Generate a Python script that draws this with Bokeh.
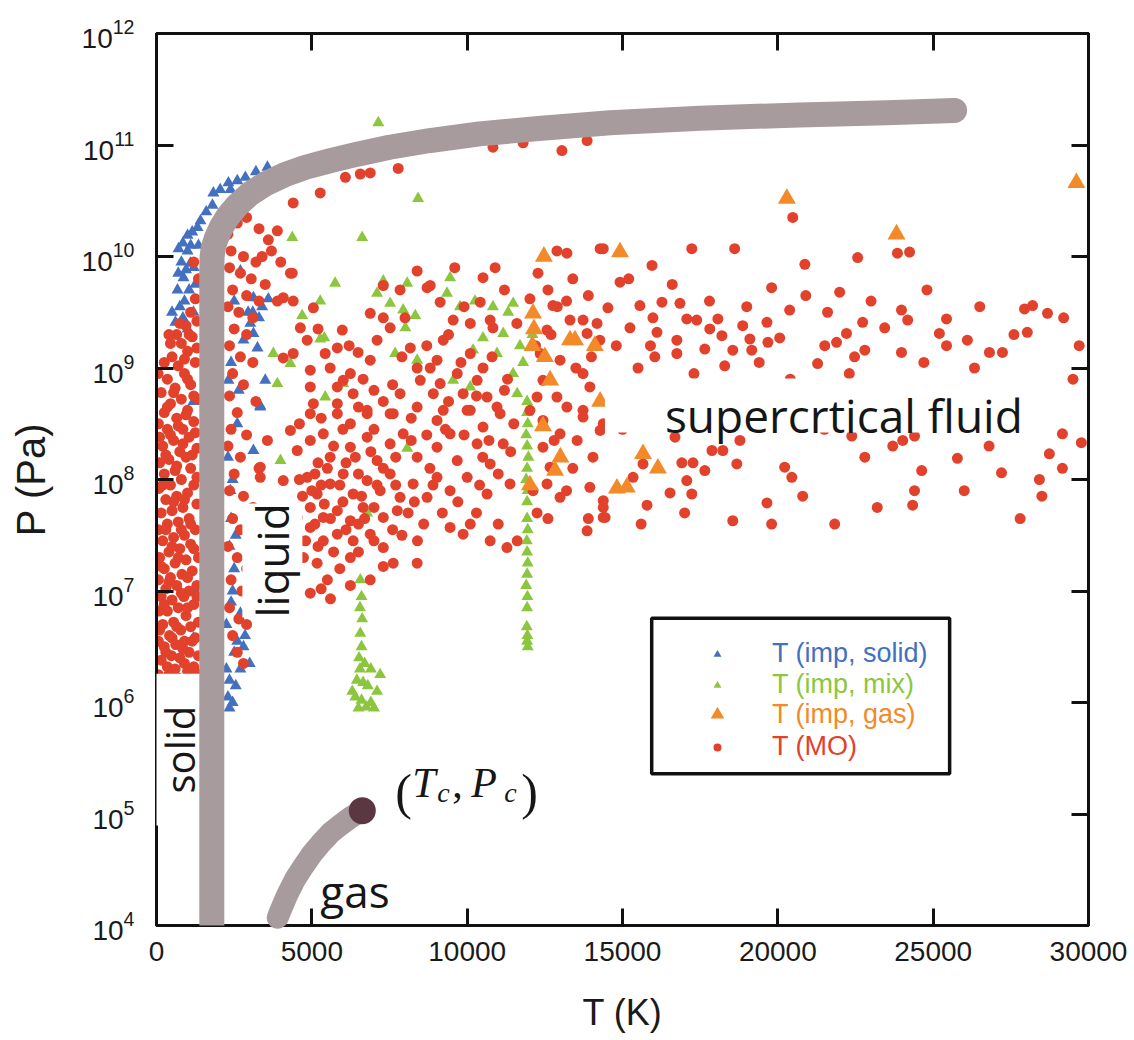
import math
from bokeh.plotting import figure
from bokeh.models import (Legend, LegendItem, Label, BoxAnnotation, FixedTicker,
                          LinearAxis, LogAxis, CustomJSTickFormatter, Range1d)
from bokeh.embed import file_html
from bokeh.resources import INLINE

# ---------------- data (T in K, log10 of P in Pa) ----------------
x_ticks = [0, 5000, 10000, 15000, 20000, 25000, 30000]
y_ticks = [1e4, 1e5, 1e6, 1e7, 1e8, 1e9, 1e10, 1e11, 1e12]

melt_T = [1780, 1780, 1790, 1830, 1920, 2080, 2300, 2600, 3000, 3500, 4100, 4800, 5600, 6500, 7500,
          8800, 10400, 12400, 14600, 17500, 20700, 23500, 25690]
melt_logP = [4.0, 9.9, 10.0, 10.08, 10.16, 10.26, 10.36, 10.46, 10.56, 10.65, 10.73, 10.8, 10.86, 10.92,
             10.98, 11.04, 11.1, 11.15, 11.2, 11.24, 11.27, 11.29, 11.31]

gas_T = [3900, 4000, 4200, 4450, 4726, 5000, 5300, 5600, 5916, 6250, 6624]
gas_logP = [4.07, 4.14, 4.27, 4.41, 4.53, 4.64, 4.74, 4.83, 4.9, 4.97, 5.03]

crit_T = [6624]
crit_logP = [5.03]

solid_pts = [
    (3570, 10.8), (3200, 10.76), (2860, 10.71), (2600, 10.68), (2315, 10.66), (2380, 10.6), (2050, 10.6),
    (1830, 10.57), (1800, 10.46), (1600, 10.4), (1415, 10.32), (1320, 10.26), (1150, 10.22), (1000, 10.19),
    (850, 10.12), (710, 10.07), (1090, 9.94), (870, 9.81), (675, 9.7), (1190, 9.5), (610, 9.41), (1000, 10.05),
    (800, 9.95), (950, 9.88), (1250, 9.75), (700, 9.85), (1050, 9.7), (900, 9.6), (750, 9.55), (1200, 9.9),
    (1350, 10.1), (1100, 10.1), (500, 9.5), (850, 9.45), (1000, 9.35),
    (3120, 9.31), (3250, 9.18), (3020, 9.4), (2700, 9.87), (3120, 9.63), (3600, 9.62), (3500, 8.89),
    (3340, 8.66), (1190, 8.7), (2315, 8.89), (2950, 9.5), (3300, 9.45), (3400, 9.55), (2800, 9.25),
    (3100, 9.5), (2500, 9.6), (2400, 9.05), (2600, 8.5), (2450, 8.0), (3120, 8.26), (2380, 7.9),
    (2400, 7.65), (2350, 7.4), (2500, 7.2), (2450, 7.0), (2700, 6.8), (2400, 6.9), (2600, 6.55),
    (2850, 6.6), (2500, 6.45), (3000, 6.35), (2700, 6.3), (2350, 6.2), (2550, 6.15), (2300, 6.05),
    (2450, 6.0), (2350, 5.95), (2800, 6.5), (2250, 6.3), (2250, 6.7), (2550, 7.5), (2300, 8.2),
    (2650, 8.8), (3340, 8.65), (1190, 6.58), (1250, 7.0),
]

mix_pts = [
    (6560, 7.1), (6600, 6.95), (6550, 6.85), (6620, 6.75), (6560, 6.62), (6600, 6.5), (6520, 6.4),
    (6700, 6.35), (6550, 6.3), (6900, 6.3), (6450, 6.2), (6650, 6.18), (6800, 6.15), (6400, 6.05),
    (6600, 6.02), (6900, 6.0), (7100, 6.1), (6500, 5.95), (6750, 5.96), (7000, 5.95), (7200, 6.25), (6300, 6.1),
    (11930, 8.7), (11930, 8.6), (11950, 8.5), (11900, 8.4), (11930, 8.3), (11970, 8.2), (11930, 8.1),
    (11900, 8.0), (11950, 7.9), (11930, 7.8), (11930, 7.65), (11950, 7.55), (11920, 7.45), (11930, 7.35),
    (11950, 7.25), (11930, 7.15), (11900, 7.05), (11940, 6.95), (11930, 6.85), (11920, 6.68), (11940, 6.6),
    (11930, 6.55), (11950, 6.5),
    (8420, 10.52), (7140, 11.2), (4370, 10.17), (6620, 10.17), (5750, 9.76), (5270, 9.6), (4690, 9.47),
    (5270, 9.26), (5400, 9.27), (3760, 9.13), (4310, 9.04), (3890, 8.86), (5430, 8.74), (6010, 8.86),
    (7680, 9.13), (7300, 9.78), (9450, 9.81), (8070, 9.76), (7100, 9.67), (7520, 9.58), (7940, 9.52),
    (8330, 9.47), (8010, 9.36), (9770, 9.55), (10250, 9.6), (10830, 9.55), (11480, 9.58), (11320, 9.5),
    (9350, 9.67), (8390, 9.07), (10190, 9.16), (10510, 9.27), (11160, 9.31), (10960, 9.13), (11480, 8.95),
    (11610, 8.77), (10100, 8.83), (9550, 8.89), (3990, 8.17), (6780, 7.7), (8070, 8.28), (11700, 9.2),
    (12100, 9.3), (11800, 9.05),
]

gas_pts = [
    (20290, 10.52), (23820, 10.2), (29610, 10.66), (14920, 10.04), (12470, 10.0), (12120, 9.49),
    (12150, 9.35), (12100, 9.2), (13310, 9.25), (12670, 8.89), (14280, 8.7), (15660, 8.23), (16140, 8.1),
    (14820, 7.92), (15140, 7.93), (12440, 8.48), (12830, 8.08), (12020, 7.95), (13470, 9.25), (14110, 9.2),
    (13000, 8.2), (12500, 9.1),
]

mo_pts = [
    # solid-side band
    (60, 5.95), (150, 6.0), (250, 6.05), (100, 6.12), (220, 6.18), (60, 6.25), (350, 6.32), (600, 6.3),
    (900, 6.35), (1200, 6.32), (150, 6.38), (480, 6.42), (750, 6.4), (1050, 6.45), (1350, 6.42), (250, 6.5),
    (620, 6.52), (900, 6.55), (60, 6.55), (1250, 6.58), (420, 6.6), (780, 6.65), (1100, 6.68), (200, 6.7),
    (550, 6.72), (1350, 6.72), (950, 6.78), (80, 6.82), (350, 6.82), (700, 6.85), (1200, 6.88), (500, 6.92),
    (150, 6.95), (880, 6.95), (1050, 7.0), (300, 7.02), (650, 7.05), (1300, 7.05), (60, 7.1), (450, 7.12),
    (820, 7.15), (1150, 7.18), (250, 7.2), (600, 7.25), (950, 7.28), (100, 7.3), (1350, 7.3), (400, 7.35),
    (750, 7.38), (1100, 7.42), (200, 7.45), (550, 7.48), (900, 7.5), (60, 7.55), (1250, 7.55), (350, 7.6),
    (700, 7.62), (1050, 7.65), (150, 7.7), (500, 7.72), (850, 7.75), (1300, 7.78), (300, 7.82), (650, 7.85),
    (1000, 7.88), (80, 7.92), (450, 7.95), (1200, 7.95), (800, 8.0), (250, 8.05), (600, 8.08), (1100, 8.1),
    (100, 8.15), (400, 8.18), (950, 8.2), (750, 8.25), (1300, 8.28), (200, 8.3), (550, 8.35), (1050, 8.38),
    (350, 8.45), (850, 8.45), (60, 8.5), (1200, 8.52), (650, 8.55), (250, 8.6), (1000, 8.62), (450, 8.68),
    (800, 8.72), (1350, 8.72), (150, 8.78), (600, 8.82), (1100, 8.85), (350, 8.9), (900, 8.95), (700, 9.02),
    (1250, 9.05), (500, 9.1), (1000, 9.15), (800, 9.22), (1150, 9.28), (650, 9.3), (950, 9.38), (1300, 9.42),
    (1100, 9.5), (1250, 9.62), (1350, 9.8), (1200, 9.95),
    (400, 6.25), (700, 6.22), (1000, 6.28), (1300, 6.26), (300, 6.45), (850, 6.48), (1150, 6.55), (500, 6.58),
    (100, 6.65), (650, 6.68), (1000, 6.85), (250, 6.88), (1300, 6.95), (800, 6.98), (400, 7.08), (1000, 7.12),
    (150, 7.22), (700, 7.3), (1200, 7.38), (500, 7.4), (300, 7.55), (800, 7.55), (1100, 7.6), (550, 7.8),
    (900, 7.82), (200, 7.95), (1300, 8.02), (650, 8.12), (300, 8.22), (1150, 8.22), (850, 8.32), (450, 8.4),
    (1250, 8.42), (100, 8.38), (700, 8.48), (950, 8.58), (350, 8.65), (1200, 8.75), (550, 8.78), (50, 8.95),
    (1000, 8.9), (250, 9.05), (900, 9.08), (1300, 9.18), (450, 9.22), (750, 9.4), (1050, 9.3), (400, 9.3),
    # liquid side of the melting line
    (2300, 10.2), (2600, 10.3), (2900, 10.35), (3300, 10.25), (3600, 10.15), (2400, 10.05), (2800, 10.0),
    (3200, 9.95), (2350, 9.9), (2700, 9.85), (3050, 9.8), (3500, 9.75), (2450, 9.7), (2900, 9.65),
    (3300, 9.6), (2300, 9.55), (2650, 9.5), (3100, 9.45), (2500, 9.35), (2900, 9.3), (2350, 9.2),
    (2700, 9.1), (3100, 9.05), (2450, 8.95), (2800, 8.85), (2350, 8.75), (3200, 8.7), (2600, 8.6),
    (2400, 8.45), (2900, 8.4), (2300, 8.3), (2700, 8.2), (3300, 8.1), (2500, 8.05), (2350, 7.9),
    (2800, 7.85), (3100, 7.75), (2450, 7.65), (2700, 7.55), (3000, 7.45), (2300, 7.4), (2600, 7.3),
    (2900, 7.2), (2400, 7.1), (2750, 7.0), (3050, 6.95), (2350, 6.85), (2650, 6.75), (2900, 6.7), (2450, 6.6),
    (2600, 6.45), (2800, 6.35),
    # below the melting curve, high pressure
    (4400, 10.48), (5270, 10.57), (6080, 10.71), (6560, 10.74), (6880, 10.75), (7780, 10.79), (10830, 10.98),
    (11800, 11.02), (13050, 10.95), (13860, 11.04), (3890, 10.23), (3700, 10.05), (3400, 10.0), (4000, 9.95),
    (12890, 10.05), (13210, 10.03), (14280, 10.07), (10510, 9.81), (12280, 9.85), (8810, 9.74), (8390, 9.87),
    (4310, 9.85), (12600, 9.7), (13400, 9.8), (13900, 9.65), (12900, 9.55),
    # high temperature scatter
    (14380, 10.07), (17230, 10.07), (18610, 10.07), (20480, 10.35), (15950, 9.92), (14920, 9.77),
    (20870, 9.93), (22570, 9.99), (23850, 10.03), (24240, 10.04), (19800, 9.72), (21990, 9.68),
    (20380, 9.52), (21600, 9.5), (23980, 9.52), (24180, 9.43), (25430, 9.44), (27940, 9.53), (28200, 9.56),
    (28680, 9.49), (28030, 9.32), (25200, 9.31), (25430, 9.2), (22730, 9.41), (23440, 9.36), (22210, 9.31),
    (21890, 9.23), (21510, 9.2), (22800, 9.16), (22470, 9.1), (23980, 9.14), (26810, 9.14), (27230, 9.14),
    (26330, 9.0), (20060, 9.27), (19680, 9.23), (19650, 9.41), (19100, 9.26), (19160, 9.16), (18550, 9.16),
    (18870, 9.38), (18070, 9.44), (17390, 9.43), (17070, 9.44), (16850, 9.58), (16270, 9.59), (15560, 9.56),
    (14530, 9.54), (15980, 9.45), (15240, 9.36), (16110, 9.32), (17810, 9.35), (18200, 9.29), (17650, 9.17),
    (16750, 9.25), (16040, 9.1), (16750, 9.13), (18290, 9.02), (21280, 9.04),
    (16690, 8.38), (17880, 8.26), (18230, 8.26), (18780, 8.35), (16910, 8.15), (17270, 8.15), (17650, 8.08),
    (18680, 8.14), (15660, 8.14), (15340, 8.02), (17070, 7.99), (17230, 7.87), (16530, 7.88), (15790, 7.77),
    (20220, 8.11), (20450, 8.02), (19650, 7.79), (18550, 7.63), (19800, 7.6), (21830, 7.6), (22380, 8.39),
    (23700, 8.3), (24020, 8.35), (24400, 8.39), (24630, 8.08), (24400, 7.9), (24340, 7.77), (25780, 8.19),
    (27200, 8.06), (28420, 8.0), (28740, 8.23), (29160, 8.41), (29160, 8.1), (29770, 8.33), (14380, 7.75),
    (14440, 7.66),
    (15200, 9.8), (16600, 9.75), (17800, 9.6), (19000, 9.55), (20900, 9.65), (23000, 9.6), (24800, 9.7),
    (26500, 9.55), (29200, 9.45), (29700, 9.2), (27600, 9.3), (26100, 9.25), (24700, 9.05), (22300, 8.95),
    (20400, 8.9), (19400, 9.05), (17300, 8.95), (15500, 9.0), (14800, 9.2), (15900, 9.2), (16400, 8.85),
    (21200, 8.7), (23300, 8.75), (27900, 8.8), (29500, 8.9), (26300, 8.6), (25400, 8.5), (15000, 8.45),
    (16000, 8.5), (17500, 8.5), (19600, 8.55), (21500, 8.45), (22800, 8.2), (26800, 8.3), (15600, 7.6),
    (17000, 7.7), (20800, 7.85), (23200, 7.75), (26000, 7.9), (27800, 7.65), (28500, 7.85),
    # main cloud
    (4370, 9.85), (4080, 9.63), (4400, 9.6), (5050, 9.54), (3890, 9.6), (4630, 9.36), (4850, 9.25),
    (4080, 9.09), (4400, 9.13), (4950, 8.98), (5590, 9.0), (5980, 9.34), (5820, 9.18), (6490, 9.14),
    (6240, 8.95), (6650, 8.9), (6880, 9.07), (6880, 9.49), (7300, 9.45), (7520, 9.36), (7840, 9.7),
    (7300, 9.74), (8710, 9.72), (9130, 9.59), (9550, 9.43), (9230, 9.25), (10100, 9.4), (10420, 9.59),
    (12020, 9.62), (12760, 9.56), (13310, 9.43), (13730, 9.43), (14180, 9.4), (10740, 9.43), (10830, 9.36),
    (12570, 9.34), (13860, 9.31), (14270, 9.25), (10100, 9.13), (8170, 9.18), (8390, 9.0), (8810, 9.0),
    (8490, 8.89), (9130, 8.86), (8910, 8.77), (9680, 8.95), (10320, 8.89), (10510, 9.0), (9870, 8.77),
    (10640, 8.74), (10960, 8.65), (9230, 8.62), (10100, 8.62), (12350, 9.13), (12990, 9.07), (12440, 8.89),
    (12890, 8.74), (13730, 8.95), (13950, 8.83), (13210, 8.65), (13730, 8.62), (12250, 8.74), (12020, 8.62),
    (7300, 8.7), (7840, 8.77), (6330, 8.77), (5820, 8.83), (5050, 8.68), (5820, 8.59), (6780, 8.59),
    (7620, 8.59), (9030, 9.07), (6010, 8.89), (5430, 9.13), (4950, 8.83),
    (4950, 8.59), (5820, 8.68), (6240, 8.5), (4310, 8.44), (6780, 8.62), (7520, 8.59), (8390, 8.65),
    (9030, 8.53), (10000, 8.62), (10510, 8.47), (11060, 8.59), (12440, 8.53), (12990, 8.41), (13730, 8.56),
    (14280, 8.44),
    (4530, 8.26), (4950, 8.35), (5370, 8.41), (5590, 8.2), (6240, 8.29), (6780, 8.38), (7100, 8.17),
    (7520, 8.32), (7940, 8.41), (8390, 8.2), (9030, 8.29), (9450, 8.41), (9680, 8.17), (10320, 8.32),
    (10740, 8.14), (11160, 8.32), (12440, 8.29), (12670, 8.11), (13540, 8.35), (14050, 8.2), (14380, 8.5),
    (3570, 8.35), (3340, 8.11),
    (4850, 8.02), (5170, 7.87), (5590, 7.96), (6010, 8.05), (6330, 7.87), (6780, 7.99), (7200, 7.9),
    (7520, 8.05), (7840, 7.84), (8260, 7.96), (8710, 7.84), (9030, 8.02), (9450, 7.9), (10000, 8.02),
    (10640, 7.87), (11380, 7.96), (12120, 7.9), (12570, 7.96), (12990, 7.84), (13950, 7.93), (14380, 7.81),
    (3340, 8.02), (4080, 7.99),
    (4950, 7.75), (5370, 7.66), (5820, 7.72), (6240, 7.63), (6650, 7.75), (7300, 7.66), (7750, 7.72),
    (5820, 7.51), (6330, 7.45), (6880, 7.51), (5370, 7.45), (4950, 7.57), (7300, 7.39), (9450, 7.57),
    (9870, 7.51), (10740, 7.45), (11280, 7.39), (11610, 7.45), (12250, 7.7), (13860, 7.54), (14380, 7.66),
    (4530, 7.66), (4630, 7.45),
    (5170, 7.25), (5500, 7.1), (4950, 6.98), (6240, 7.05), (6880, 7.1), (7300, 7.22), (7620, 7.25),
    (8390, 7.25), (6240, 7.3), (4730, 7.3), (5300, 7.02), (5600, 6.93),
    (5200, 8.15), (5700, 8.3), (6100, 8.15), (6500, 8.05), (5000, 7.9), (5400, 7.78), (6000, 7.8),
    (6500, 7.6), (7000, 7.75), (7600, 7.55), (8100, 7.7), (8600, 7.6), (9200, 7.7), (10300, 7.7),
    (11000, 7.6), (8800, 8.1), (10500, 8.2), (11500, 8.5), (11200, 8.8), (9800, 9.05), (7000, 8.45),
    (4600, 8.0), (5100, 8.05), (5500, 8.1), (6400, 8.2), (6900, 8.25), (7300, 8.1), (7700, 8.2), (8200, 8.35),
    (8700, 8.4), (9300, 8.45), (9900, 8.4), (10700, 8.35), (11400, 8.25), (4700, 7.85), (5300, 7.95),
    (5900, 7.95), (6600, 7.85), (7100, 7.95), (7700, 7.95), (8300, 7.8), (8900, 7.95), (9700, 7.8),
    (10400, 7.95), (11000, 8.05), (5100, 7.6), (5600, 7.65), (6100, 7.55), (6700, 7.65), (7000, 7.45),
    (7900, 7.5), (8400, 7.45), (10100, 7.6), (5200, 7.4), (5700, 7.35), (6500, 7.35), (4800, 7.45),
    (5900, 7.2), (4600, 8.5), (5300, 8.55), (6000, 8.45), (6500, 8.65), (7000, 8.8), (7600, 8.85),
    (8200, 8.55), (9400, 8.7), (10300, 8.75), (11300, 8.9), (10800, 9.1), (9400, 9.3), (8700, 9.2),
    (7900, 9.1), (7100, 9.25), (6200, 9.2), (5200, 9.35), (8000, 9.45), (9900, 9.55), (11200, 9.7),
    (9600, 9.9), (10900, 9.9), (11600, 9.4), (12700, 9.3), (13200, 9.6), (12200, 9.2), (13500, 9.0),
    (14000, 9.1), (12800, 8.35), (13400, 8.1), (13900, 7.65), (12600, 7.65), (13200, 7.9),
]

# ---------------- figure ----------------
p = figure(frame_width=932, frame_height=892,
           x_range=Range1d(0, 30000), y_range=Range1d(1e4, 1e12), y_axis_type="log",
           output_backend="svg", toolbar_location=None,
           min_border_left=156, min_border_right=46, min_border_top=33, min_border_bottom=115)
p.xgrid.visible = False
p.ygrid.visible = False
p.outline_line_color = "#111111"
p.outline_line_width = 3
p.background_fill_color = "white"
p.border_fill_color = "white"

def unzip(pts):
    return [a for a, b in pts], [10 ** b for a, b in pts]

sT, sP = unzip(solid_pts)
mT, mP = unzip(mix_pts)
gT, gP = unzip(gas_pts)
oT, oP = unzip(mo_pts)

blue, green, orange, red = "#4470c0", "#8cc63f", "#f28a2a", "#e2412c"
gray = "#a79b9e"

r_solid = p.scatter(sT, sP, marker="triangle", size=12, color=blue, line_width=0)
r_mix = p.scatter(mT, mP, marker="triangle", size=12, color=green, line_width=0)
r_mo = p.scatter(oT, oP, marker="circle", size=11, color=red, line_width=0)
r_gas = p.scatter(gT, gP, marker="triangle", size=18, color=orange, line_width=0)

melt_P = [10 ** v for v in melt_logP]
p.line(melt_T, melt_P, line_width=25, color=gray, line_cap="butt",
       line_join="round", level="overlay")
# rounded far end of the melting curve
p.scatter(melt_T[-1:], melt_P[-1:], size=25, color=gray, line_width=0, level="overlay")
p.line(gas_T, [10 ** v for v in gas_logP], line_width=22, color=gray, line_cap="round",
       line_join="round", level="overlay")
p.scatter(crit_T, [10 ** v for v in crit_logP], size=27, color="#5b3742", line_width=0, level="overlay")

# ---------------- axes ----------------
tick_font = "Liberation Sans"
for ax in (p.xaxis[0], p.yaxis[0]):
    ax.major_tick_in = 17
    ax.major_tick_out = 0
    ax.minor_tick_line_color = None
    ax.major_tick_line_width = 3
    ax.axis_line_width = 3
    ax.axis_line_color = "#111111"
    ax.major_tick_line_color = "#111111"
    ax.major_label_text_font = tick_font
    ax.major_label_text_font_size = "28px"
    ax.major_label_text_color = "#1a1a1a"
    ax.axis_label_text_font = tick_font
    ax.axis_label_text_font_style = "normal"
    ax.axis_label_text_color = "#1a1a1a"

p.xaxis[0].ticker = FixedTicker(ticks=x_ticks)
p.yaxis[0].ticker = FixedTicker(ticks=y_ticks)
p.xaxis[0].axis_label = "T (K)"
p.yaxis[0].axis_label = "P (Pa)"
p.xaxis[0].axis_label_text_font_size = "36px"
p.yaxis[0].axis_label_text_font_size = "40px"
p.xaxis[0].major_label_standoff = 16
p.yaxis[0].major_label_standoff = 22
p.xaxis[0].axis_label_standoff = 28
p.yaxis[0].axis_label_standoff = 26

blank = CustomJSTickFormatter(code="return ''")
top = LinearAxis(ticker=FixedTicker(ticks=x_ticks), formatter=blank)
right = LogAxis(ticker=FixedTicker(ticks=y_ticks), formatter=blank)
for ax in (top, right):
    ax.major_tick_in = 17
    ax.major_tick_out = 0
    ax.minor_tick_line_color = None
    ax.major_tick_line_width = 3
    ax.major_tick_line_color = "#111111"
    ax.axis_line_width = 3
    ax.axis_line_color = "#111111"
    ax.major_label_standoff = 0
p.add_layout(top, "above")
p.add_layout(right, "right")

# ---------------- annotations ----------------
ann_font = "Open Sans"
ink = "#161616"

p.add_layout(BoxAnnotation(left=14435, right=28100, bottom=10 ** 8.422, top=10 ** 8.906,
                           fill_color="white", fill_alpha=1.0, line_color=None))
p.add_layout(Label(x=16365, y=10 ** 8.574, text="supercrtical fluid", text_font=ann_font,
                   text_font_size="46px", text_color=ink, text_baseline="alphabetic"))
p.add_layout(Label(x=3730, y=10 ** 6.762, text="liquid", angle=math.pi / 2, text_font=ann_font,
                   text_font_size="44px", text_color=ink, text_baseline="alphabetic",
                   background_fill_color="white", background_fill_alpha=1.0))
p.add_layout(Label(x=740, y=10 ** 4.897, text="solid", angle=math.pi / 2, text_font=ann_font,
                   text_font_size="40px", text_color=ink, text_baseline="alphabetic",
                   background_fill_color="white", background_fill_alpha=1.0,
                   padding=dict(left=32, right=32, top=0, bottom=0)))
p.add_layout(Label(x=5273, y=10 ** 4.31, text="gas", text_font=ann_font,
                   text_font_size="44px", text_color=ink, text_baseline="alphabetic"))

serif = "Liberation Serif"
cx, cy = 7684, 10 ** 5.274
pieces = [("(", 0, -9, "50px", "normal"), ("T", 17, 0, "42px", "italic"), ("c", 42, -9, "28px", "italic"),
          (",", 57, 0, "42px", "normal"), ("P", 76, 0, "42px", "italic"), ("c", 109, -9, "28px", "italic"),
          (")", 126, -9, "50px", "normal")]
for txt, dx, dy, fs, st in pieces:
    p.add_layout(Label(x=cx, y=cy, x_offset=dx, y_offset=dy, text=txt, text_font=serif,
                       text_font_size=fs, text_font_style=st, text_color=ink, text_baseline="alphabetic"))

# ---------------- legend ----------------
p.add_layout(BoxAnnotation(left=15940, right=25530, bottom=10 ** 5.36, top=10 ** 6.755,
                           fill_alpha=0, line_color="#111111", line_alpha=1.0, line_width=3.5))

entries = [("T (imp, solid)", r_solid, blue, 256, 20), ("T (imp, mix)", r_mix, green, 225, 20),
           ("T (imp, gas)", r_gas, orange, 194, 34), ("T (MO)", r_mo, red, 163, 20)]
for lab, rend, col, ly, gw in entries:
    x0 = 717 - gw / 2 - 156
    lg = Legend(items=[LegendItem(label=lab, renderers=[rend])], location=(x0, ly),
                glyph_width=gw, glyph_height=gw, label_standoff=int(772 - 156 - x0 - gw),
                label_text_font=tick_font, label_text_font_size="27px", label_text_color=col,
                padding=0, margin=0, spacing=0, border_line_color=None, background_fill_alpha=0)
    p.add_layout(lg, "center")

open("out.html", "w").write(file_html(p, INLINE))
